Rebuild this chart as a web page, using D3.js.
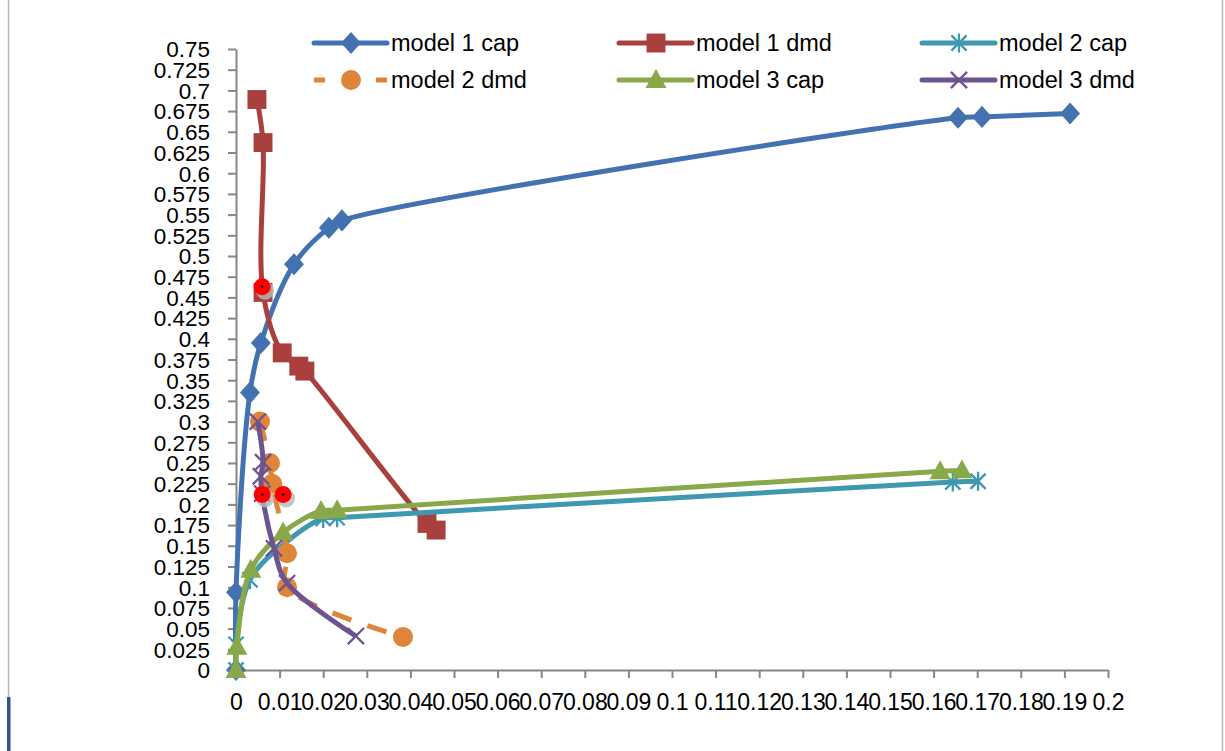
<!DOCTYPE html>
<html><head><meta charset="utf-8">
<script src="https://cdn.jsdelivr.net/npm/d3@7/dist/d3.min.js"></script>
<style>
body{margin:0;background:#fff;}
text{font-family:"Liberation Sans",Arial,sans-serif;fill:#000;}
</style>
</head><body>
<svg id="chart" width="1225" height="751"></svg>
<script>
// ---- data ----
const xTickLabels = ["0","0.01","0.02","0.03","0.04","0.05","0.06","0.07","0.08","0.09","0.1","0.11","0.12","0.13","0.14","0.15","0.16","0.17","0.18","0.19","0.2"];
const yTickLabels = ["0","0.025","0.05","0.075","0.1","0.125","0.15","0.175","0.2","0.225","0.25","0.275","0.3","0.325","0.35","0.375","0.4","0.425","0.45","0.475","0.5","0.525","0.55","0.575","0.6","0.625","0.65","0.675","0.7","0.725","0.75"];
const seriesNames = ["model 1 cap","model 1 dmd","model 2 cap","model 2 dmd","model 3 cap","model 3 dmd"];

const model1CapX = [0, 0, 0.0032, 0.0057, 0.0133, 0.0213, 0.0243, 0.1656, 0.1711, 0.1913];
const model1CapY = [0, 0.094, 0.335, 0.395, 0.490, 0.534, 0.543, 0.667, 0.668, 0.672];

const model1DmdX = [0.0048, 0.0062, 0.0062, 0.0106, 0.0144, 0.0158, 0.0438, 0.0459];
const model1DmdY = [0.689, 0.637, 0.456, 0.383, 0.367, 0.361, 0.177, 0.169];

const model2CapX = [0, 0, 0.0032, 0.0112, 0.0200, 0.0232, 0.1644, 0.1702];
const model2CapY = [0, 0.031, 0.109, 0.153, 0.183, 0.184, 0.227, 0.228];

const model2DmdX = [0.0055, 0.0078, 0.0083, 0.0117, 0.0117, 0.0383];
const model2DmdY = [0.300, 0.250, 0.225, 0.141, 0.100, 0.040];

const model3CapX = [0, 0.0002, 0.0034, 0.0108, 0.0195, 0.0232, 0.1615, 0.1665];
const model3CapY = [0, 0.028, 0.121, 0.166, 0.192, 0.193, 0.240, 0.241];

const model3DmdX = [0.0050, 0.0062, 0.0057, 0.0060, 0.0087, 0.0117, 0.0275];
const model3DmdY = [0.300, 0.251, 0.234, 0.213, 0.147, 0.105, 0.041];

const highlightX = [0.0060, 0.0060, 0.0108];
const highlightY = [0.463, 0.212, 0.212];

// ---- styles ----
const colors = ["#4372b0","#a9403d","#3e98b2","#df8439","#89a84a","#6d5490"];
const markers = ["diamond","square","star","circle","triangle","x"];

const svg = d3.select("#chart");
const x = d3.scaleLinear().domain([0, 0.2]).range([236, 1108]);
const y = d3.scaleLinear().domain([0, 0.75]).range([670, 49]);

// frame
svg.append("line").attr("x1",8.5).attr("x2",8.5).attr("y1",0).attr("y2",697).attr("stroke","#b5b5b5").attr("stroke-width",1.5);
svg.append("rect").attr("x",7).attr("y",697).attr("width",3.5).attr("height",54).attr("fill","#2f5591");
svg.append("line").attr("x1",1222.5).attr("x2",1222.5).attr("y1",0).attr("y2",751).attr("stroke","#b5b5b5").attr("stroke-width",1.5);

// axes
const xAxis = d3.axisBottom(x).tickValues(xTickLabels.map(Number)).tickFormat((d,i)=>xTickLabels[i]).tickSize(8).tickSizeOuter(0).tickPadding(16);
const yAxis = d3.axisLeft(y).tickValues(yTickLabels.map(Number)).tickFormat((d,i)=>yTickLabels[i]).tickSize(8).tickSizeOuter(0).tickPadding(18);

const gx = svg.append("g").attr("transform","translate(0,670)").call(xAxis);
const gy = svg.append("g").attr("transform","translate(236,0)").call(yAxis);
[gx, gy].forEach(g=>{
  g.select(".domain").attr("stroke","#868686").attr("stroke-width",2);
  g.selectAll(".tick line").attr("stroke","#868686").attr("stroke-width",2);
  g.selectAll(".tick text").attr("font-size",23).attr("font-family","Liberation Sans, Arial, sans-serif").attr("fill","#000");
});
gy.selectAll(".tick text").attr("font-size",22.5).attr("dy","0.35em");

// marker drawing
function markerPath(type, cx, cy, s) {
  const h = s/2;
  switch(type) {
    case "diamond": return `M${cx},${cy-h*1.05}L${cx+h*0.95},${cy}L${cx},${cy+h*1.05}L${cx-h*0.95},${cy}Z`;
    case "square": { const q = h*0.9; return `M${cx-q},${cy-q}H${cx+q}V${cy+q}H${cx-q}Z`; }
    case "triangle": return `M${cx},${cy-h*1.05}L${cx+h},${cy+h*0.75}L${cx-h},${cy+h*0.75}Z`;
    case "x": { const q = h*0.85; return `M${cx-q},${cy-q}L${cx+q},${cy+q}M${cx+q},${cy-q}L${cx-q},${cy+q}`; }
    case "star": { const q = h*0.8; return `M${cx},${cy-h}V${cy+h}M${cx-q},${cy-q}L${cx+q},${cy+q}M${cx+q},${cy-q}L${cx-q},${cy+q}`; }
  }
}
function drawMarker(g, type, cx, cy, color) {
  if (type === "circle") {
    g.append("circle").attr("cx",cx).attr("cy",cy).attr("r",10).attr("fill",color);
  } else if (type === "x" || type === "star") {
    g.append("path").attr("d",markerPath(type,cx,cy,19)).attr("stroke",color).attr("stroke-width",2.3).attr("fill","none");
  } else {
    const size = type === "square" ? 21 : 21;
    g.append("path").attr("d",markerPath(type,cx,cy,size)).attr("fill",color);
  }
}

const allSeries = [
  [model1CapX, model1CapY],
  [model1DmdX, model1DmdY],
  [model2CapX, model2CapY],
  [model2DmdX, model2DmdY],
  [model3CapX, model3CapY],
  [model3DmdX, model3DmdY]
];

const line = d3.line().x(d=>x(d[0])).y(d=>y(d[1])).curve(d3.curveCatmullRom.alpha(0.5));

allSeries.forEach(([xs, ys], i) => {
  const pts = xs.map((v,k)=>[v, ys[k]]);
  const g = svg.append("g");
  g.append("path").datum(pts).attr("d", line).attr("fill","none")
    .attr("stroke", colors[i]).attr("stroke-width", 5)
    .attr("stroke-linejoin","round")
    .attr("stroke-dasharray", i===3 ? "20,17" : null);
  pts.forEach(p => drawMarker(g, markers[i], x(p[0]), y(p[1]), colors[i]));
});

// highlighted red points with soft shadow
const hg = svg.append("g");
highlightX.forEach((v,k)=>{
  const cx = x(v), cy = y(highlightY[k]);
  hg.append("circle").attr("cx",cx+3).attr("cy",cy+4).attr("r",9).attr("fill","#b8b8b8").attr("opacity",0.8);
  hg.append("circle").attr("cx",cx).attr("cy",cy).attr("r",8.5).attr("fill","#ff0000");
  hg.append("circle").attr("cx",cx).attr("cy",cy).attr("r",1.3).attr("fill","#000");
});

// legend
const legCols = [314, 619, 922];
const legRows = [43, 80];
seriesNames.forEach((name, i) => {
  const lx = legCols[i % 3], ly = legRows[Math.floor(i / 3)];
  const g = svg.append("g");
  if (i === 3) {
    g.append("line").attr("x1",lx).attr("x2",lx+11).attr("y1",ly).attr("y2",ly).attr("stroke",colors[i]).attr("stroke-width",5);
    g.append("line").attr("x1",lx+62).attr("x2",lx+73).attr("y1",ly).attr("y2",ly).attr("stroke",colors[i]).attr("stroke-width",5);
  } else {
    g.append("line").attr("x1",lx).attr("x2",lx+73).attr("y1",ly).attr("y2",ly).attr("stroke",colors[i]).attr("stroke-width",5).attr("stroke-linecap","round");
  }
  drawMarker(g, markers[i], lx+37, ly, colors[i]);
  g.append("text").attr("x", lx+77).attr("y", ly).attr("dy","0.35em").attr("font-size",23.5).text(name);
});
</script>
</body></html>
